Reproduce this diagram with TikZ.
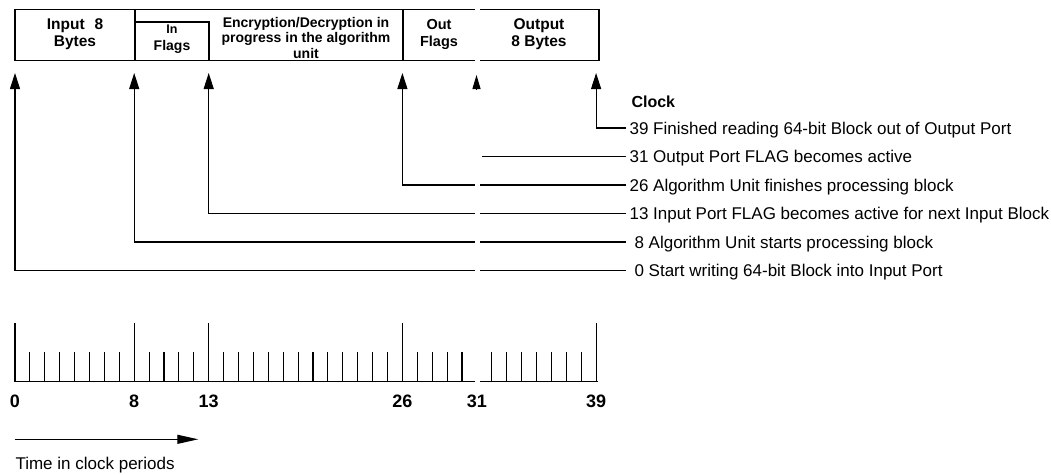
\documentclass[tikz,border=0pt]{standalone}
\usepackage{fontspec}
\setmainfont{Liberation Sans}
\usetikzlibrary{arrows.meta}

\begin{document}
\begin{tikzpicture}[x=1pt,y=-1pt,line width=1.1pt,
  boxtext/.style={font=\fontsize{15.5}{17}\selectfont\bfseries,align=center,inner sep=0pt},
  evtext/.style={font=\fontsize{17}{20}\selectfont,anchor=west,inner sep=0pt,text height=12.2pt,text depth=0pt},
  numtext/.style={font=\fontsize{18}{20}\selectfont\bfseries,inner sep=0pt},
  up/.style={-{Triangle[length=16pt,width=10pt]}}]
\useasboundingbox (0,0) rectangle (1051,474);

% the five fields of the block
\draw (15,9.5) rectangle (599,60.5);
\draw (135,9.5) -- (135,60.5);
\draw (135,22) -- (209,22) -- (209,60.5);
\draw (403,9.5) -- (403,60.5);
\node[boxtext] (inbytes) at (75,34) {Input\hspace{1.2ex}8\\Bytes};
\node[boxtext,font=\fontsize{14}{16.5}\selectfont\bfseries] (inflags) at (172,39) {{\fontsize{12.5}{14}\selectfont In}\\Flags};
\node[boxtext,font=\fontsize{14}{15.5}\selectfont\bfseries] (algo) at (306,37.5) {Encryption/Decryption in\\progress in the algorithm\\unit};
\node[boxtext,font=\fontsize{14.5}{17}\selectfont\bfseries] (outflags) at (439,34) {Out\\Flags};
\node[boxtext] (outbytes) at (539,34) {Output\\8 Bytes};

% events
\node[evtext,font=\fontsize{16}{18}\selectfont\bfseries] (clock) at (631,101) {Clock};
\node[evtext] (e39) at (629,128) {39 Finished reading 64-bit Block out of Output Port};
\node[evtext] (e31) at (629,156.5) {31 Output Port FLAG becomes active};
\node[evtext] (e26) at (629,185) {26 Algorithm Unit finishes processing block};
\node[evtext] (e13) at (629,213.5) {13 Input Port FLAG becomes active for next Input Block};
\node[evtext] (e8) at (629,242) {\hspace{5pt}8 Algorithm Unit starts processing block};
\node[evtext] (e0) at (629,270.5) {\hspace{5pt}0 Start writing 64-bit Block into Input Port};

\foreach \t in {0,8,13,26,39}
  \coordinate (t\t) at ({15+14.9*\t},73);
\coordinate (t31) at (476.5,75);
\coordinate (c31) at (481.5,156.5);

\draw[up] ([xshift=-3pt]e39.west) -| (t39);
\draw ([xshift=-3pt]e31.west) -- (c31);
\draw[up] ([xshift=-3pt]e26.west) -| (t26);
\draw[up] ([xshift=-3pt]e13.west) -| (t13);
\draw[up] ([xshift=-3pt]e8.west) -| (t8);
\draw[up] ([xshift=-3pt]e0.west) -| (t0);

% clock periods
\draw (15,381.7) -- (598.3,381.7);
\foreach \t in {0,8,13,26,39}
  \draw ({15+14.9*\t},381.7) -- ({15+14.9*\t},323.3);
\foreach \t in {1,...,7,9,10,11,12,14,15,...,25,27,28,29,30,32,33,...,38}
  \draw ({15+14.9*\t},381.7) -- ({15+14.9*\t},352.3);
\foreach \t in {0,8,13,26,31,39}
  \node[numtext] (n\t) at ({15+14.9*\t},401) {\t};

% seam between the two halves
\fill[white] (474.8,0) rectangle (480.3,395);
\draw[-{Triangle[length=14pt,width=8pt]}] (476.5,90) -- (t31);

\coordinate (a0) at (14.7,439.3);
\coordinate (a1) at (198.3,439.3);
\draw[-{Triangle[length=21pt,width=9pt]}] (a0) -- (a1);
\node[evtext] (periods) at (15,463.3) {Time in clock periods};
\end{tikzpicture}
\end{document}
